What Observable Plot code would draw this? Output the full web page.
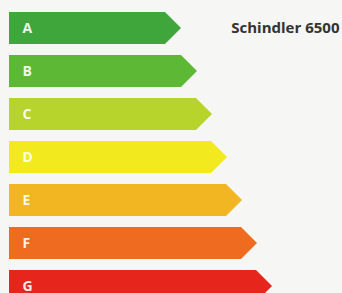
<!DOCTYPE html>
<html>
<head>
<meta charset="utf-8">
<script src="https://cdn.jsdelivr.net/npm/d3@7"></script>
<script src="https://cdn.jsdelivr.net/npm/@observablehq/plot@0.6"></script>
<style>
  html, body { margin: 0; padding: 0; background: #f6f6f4; }
  #chart svg { display: block; }
</style>
</head>
<body>
<div id="chart"></div>
<script>
const classes = ["A", "B", "C", "D", "E", "F", "G"];
const lengths = [165, 181, 196, 211, 226, 241, 256];
const colors = ["#3fa63b", "#5db835", "#b6d42c", "#f2ea1e", "#f1b621", "#ee6b1f", "#e6251d"];
const productLabel = "Schindler 6500";
const productClass = "A";

const half = 0.37;   // half bar thickness in row units
const tip = 16;      // arrow tip depth
const left = 9;

const shapes = classes.flatMap((c, i) => [
  {c, x: left, y1: i - half, y2: i + half},
  {c, x: lengths[i], y1: i - half, y2: i + half},
  {c, x: lengths[i] + tip, y1: i, y2: i}
]);
const rows = classes.map((c, i) => ({c, i}));

const chart = Plot.plot({
  width: 342,
  height: 293,
  margin: 0,
  style: {background: "#f6f6f4", fontFamily: "'Open Sans', sans-serif"},
  x: {domain: [0, 342], range: [0, 342], axis: null},
  y: {domain: [-28 / 43, 265 / 43], range: [0, 293], axis: null},
  color: {domain: classes, range: colors},
  marks: [
    Plot.areaY(shapes, {x: "x", y1: "y1", y2: "y2", z: "c", fill: "c", curve: "linear"}),
    Plot.text(rows, {x: left + 13, y: "i", text: "c", fill: "white", fillOpacity: 0.92, fontWeight: "bold", fontSize: 14, textAnchor: "start", dy: 0}),
    Plot.text([productLabel], {x: 339, y: classes.indexOf(productClass), text: d => d, fill: "#333", fontWeight: "bold", fontSize: 15, textAnchor: "end", dy: 0})
  ]
});
document.getElementById("chart").appendChild(chart);
</script>
</body>
</html>
